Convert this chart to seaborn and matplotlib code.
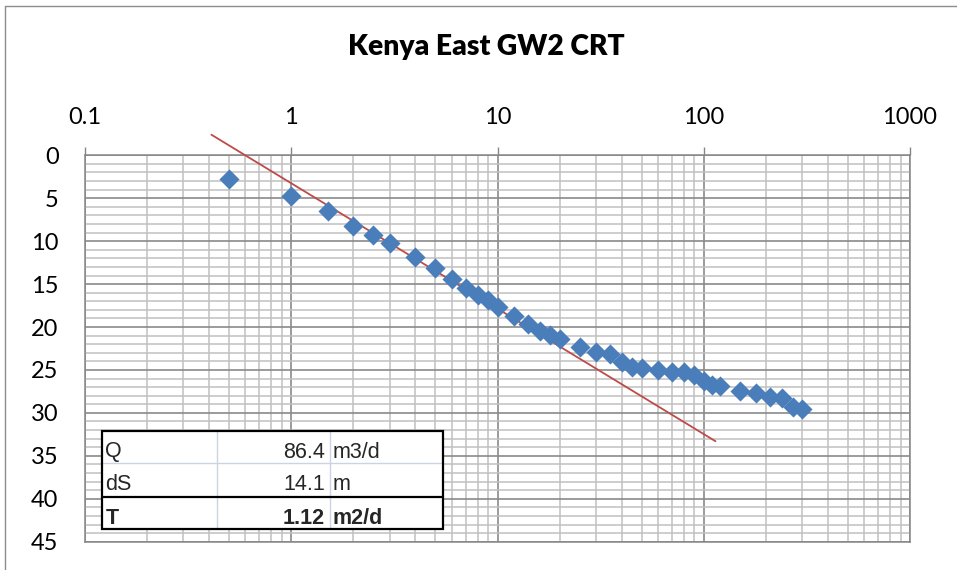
import matplotlib
matplotlib.use("Agg")
import matplotlib.pyplot as plt
import seaborn as sns
import pandas as pd
from matplotlib.ticker import LogLocator, MultipleLocator, FixedLocator, FixedFormatter, NullFormatter
from matplotlib.lines import Line2D
from matplotlib.patches import Rectangle

# ---------------- data ----------------
title = "Kenya East GW2 CRT"
time_min = [0.5, 1, 1.5, 2, 2.5, 3, 4, 5, 6, 7, 8, 9, 10, 12, 14, 16, 18, 20,
            25, 30, 35, 40, 45, 50, 60, 70, 80, 90, 100, 110, 120, 150, 180,
            210, 240, 270, 300]
drawdown_m = [2.8, 4.7, 6.45, 8.2, 9.3, 10.2, 11.9, 13.1, 14.4, 15.4, 16.3,
              16.9, 17.7, 18.7, 19.7, 20.5, 20.9, 21.4, 22.3, 22.9, 23.1, 24.1,
              24.6, 24.8, 25.0, 25.2, 25.2, 25.6, 26.3, 26.8, 26.9, 27.5, 27.7,
              28.2, 28.3, 29.3, 29.6]
fit_time = [0.41, 114]
fit_drawdown = [-2.4, 33.3]
x_tick_values = [0.1, 1, 10, 100, 1000]
x_tick_labels = ["0.1", "1", "10", "100", "1000"]
y_tick_values = [0, 5, 10, 15, 20, 25, 30, 35, 40, 45]
y_tick_labels = ["0", "5", "10", "15", "20", "25", "30", "35", "40", "45"]
table_labels = ["Q", "dS", "T"]
table_values = ["86.4", "14.1", "1.12"]
table_units = ["m3/d", "m", "m2/d"]

# ---------------- figure ----------------
W, H = 957, 570
sns.set_style("white")
plt.rcParams["font.family"] = ["Lato", "DejaVu Sans"]

fig = plt.figure(figsize=(W / 100, H / 100), dpi=100)
fig.patch.set_facecolor("white")

def fx(px):
    return px / W

def fy(py):
    return 1 - py / H

left, right, top, bottom = 85, 910, 155.3, 541.7
ax = fig.add_axes([fx(left), fy(bottom), fx(right) - fx(left), fy(top) - fy(bottom)])

pts = pd.DataFrame({"t": time_min, "s": drawdown_m})
fit = pd.DataFrame({"t": fit_time, "s": fit_drawdown})

sns.lineplot(data=fit, x="t", y="s", ax=ax, color="#BE4B48", linewidth=1.3,
             clip_on=False, zorder=3, sort=False)
sns.scatterplot(data=pts, x="t", y="s", ax=ax, marker="D", s=105,
                color="#4A7EBB", linewidth=0, zorder=4, clip_on=False)

ax.set_xscale("log")
ax.set_xlim(0.1, 1000)
ax.set_ylim(45, 0)

ax.xaxis.set_major_locator(FixedLocator(x_tick_values))
ax.xaxis.set_major_formatter(FixedFormatter(x_tick_labels))
ax.xaxis.set_minor_locator(LogLocator(base=10, subs=[2, 3, 4, 5, 6, 7, 8, 9], numticks=20))
ax.xaxis.set_minor_formatter(NullFormatter())
ax.yaxis.set_major_locator(FixedLocator(y_tick_values))
ax.yaxis.set_major_formatter(FixedFormatter(y_tick_labels))
ax.yaxis.set_minor_locator(MultipleLocator(1))

ax.xaxis.tick_top()
ax.tick_params(axis="x", which="major", direction="out", length=5.5, width=1,
               color="#868686", pad=14.5, labelsize=17, labelcolor="black",
               top=True, bottom=False, labeltop=True, labelbottom=False)
ax.tick_params(axis="y", which="major", direction="out", length=6, width=1,
               color="#868686", pad=13, labelsize=17, labelcolor="black")
ax.tick_params(which="minor", length=0)

ax.grid(which="minor", color="#C0C0C0", linewidth=1.1)
ax.grid(which="major", color="#8A8A8A", linewidth=1.2)
ax.set_axisbelow(True)
for sp in ax.spines.values():
    sp.set_color("#868686")
    sp.set_linewidth(1.1)

ax.set_xlabel("")
ax.set_ylabel("")
if ax.get_legend() is not None:
    ax.get_legend().remove()

# title
fig.text(fx(486.5), fy(55), title, ha="center", va="baseline",
         fontsize=20.3, fontweight="heavy", color="black")

# outer chart border (top and left visible)
fig.add_artist(Line2D([fx(5), fx(5)], [fy(5.7), fy(H + 5)], color="#8C8C8C", lw=1.0))
fig.add_artist(Line2D([fx(5), fx(W + 5)], [fy(5.7), fy(5.7)], color="#8C8C8C", lw=1.0))

# ---------------- parameter table ----------------
tx0, tx1, tx2, tx3 = 102.3, 216.7, 330, 443.3
ty = [430.7, 463.3, 496.7, 529.3]
fig.add_artist(Rectangle((fx(tx0), fy(ty[3])), fx(tx3) - fx(tx0), fy(ty[0]) - fy(ty[3]),
                         facecolor="white", edgecolor="none", zorder=5))
light = "#CCD4E4"
for xv in (tx1, tx2):
    fig.add_artist(Line2D([fx(xv), fx(xv)], [fy(ty[0]), fy(ty[3])], color=light, lw=1.0, zorder=6))
fig.add_artist(Line2D([fx(tx0), fx(tx3)], [fy(ty[1]), fy(ty[1])], color=light, lw=1.0, zorder=6))
fig.add_artist(Line2D([fx(tx0), fx(tx3)], [fy(ty[2]), fy(ty[2])], color="black", lw=1.6, zorder=7))
fig.add_artist(Rectangle((fx(tx0), fy(ty[3])), fx(tx3) - fx(tx0), fy(ty[0]) - fy(ty[3]),
                         facecolor="none", edgecolor="black", lw=1.6, zorder=7))

baselines = [457.5, 490.5, 524]
for i in range(3):
    w = "bold" if i == 2 else "normal"
    fam = ["Liberation Sans", "DejaVu Sans"]
    fig.text(fx(tx0 + 3), fy(baselines[i]), table_labels[i], ha="left", va="baseline",
             fontsize=15.5, fontweight=w, family=fam, zorder=8)
    fig.text(fx(tx2 - 5), fy(baselines[i]), table_values[i], ha="right", va="baseline",
             fontsize=15.5, fontweight=w, family=fam, zorder=8)
    fig.text(fx(tx2 + 2.5), fy(baselines[i]), table_units[i], ha="left", va="baseline",
             fontsize=15.5, fontweight=w, family=fam, zorder=8)

fig.savefig("out.png", dpi=100)
